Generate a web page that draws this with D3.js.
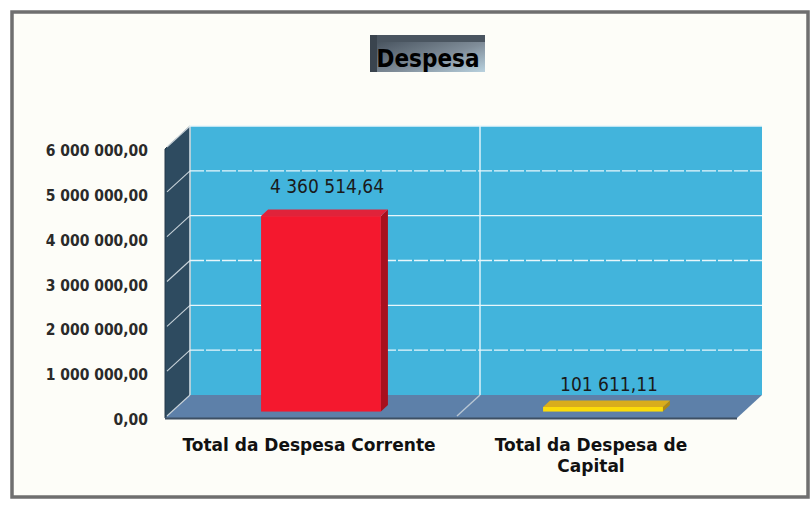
<!DOCTYPE html>
<html><head><meta charset="utf-8">
<script src="https://cdn.jsdelivr.net/npm/d3@7"></script>
<style>html,body{margin:0;padding:0;background:#ffffff;}svg{display:block;}</style>
</head><body>
<svg id="c" width="812" height="507"></svg>
<script>
const categories = [["Total da Despesa Corrente"], ["Total da Despesa de", "Capital"]];
const values = [4360514.64, 101611.11];
const valueLabels = ["4 360 514,64", "101 611,11"];
const tickValues = [0, 1000000, 2000000, 3000000, 4000000, 5000000, 6000000];
const tickLabels = ["0,00", "1 000 000,00", "2 000 000,00", "3 000 000,00", "4 000 000,00", "5 000 000,00", "6 000 000,00"];
const title = "Despesa";

const svg = d3.select("#c");
const DX = 25, DY = -23;           // depth offset front -> back
const fx0 = 165, fx1 = 737;        // front plane x extent
const y = d3.scaleLinear().domain([0, 6000000]).range([418, 149]);
const x = d3.scaleBand().domain(d3.range(categories.length)).range([173, 737]).padding(0);

// frame
svg.append("rect").attr("x", 12).attr("y", 12).attr("width", 796).attr("height", 485)
  .attr("fill", "#fdfdf8").attr("stroke", "#6f6f6f").attr("stroke-width", 3.5);

// title
const defs = svg.append("defs");
const tg = defs.append("linearGradient").attr("id", "tg").attr("x1", "0").attr("y1", "0").attr("x2", "1").attr("y2", "1");
tg.append("stop").attr("offset", "0").attr("stop-color", "#3b4651");
tg.append("stop").attr("offset", "0.6").attr("stop-color", "#7f8c98");
tg.append("stop").attr("offset", "1").attr("stop-color", "#b9d2df");
svg.append("rect").attr("x", 370).attr("y", 35).attr("width", 115).attr("height", 37).attr("fill", "url(#tg)");
svg.append("rect").attr("x", 370).attr("y", 35).attr("width", 115).attr("height", 7).attr("fill", "#4a5560");
svg.append("rect").attr("x", 370).attr("y", 35).attr("width", 7).attr("height", 37).attr("fill", "#3a444e");
svg.append("text").attr("x", 428).attr("y", 67).attr("text-anchor", "middle")
  .attr("font-family", "DejaVu Sans Condensed, DejaVu Sans").attr("font-weight", "bold")
  .attr("font-size", 24).attr("fill", "#000").text(title);

const y0 = y(0), yTop = y(6000000);
// back wall
svg.append("rect").attr("x", fx0 + DX).attr("y", yTop + DY).attr("width", fx1 - fx0)
  .attr("height", y0 - yTop).attr("fill", "#42b4dc");
// left wall
svg.append("polygon").attr("points", [[fx0, yTop], [fx0 + DX, yTop + DY], [fx0 + DX, y0 + DY], [fx0, y0]].join(" "))
  .attr("fill", "#2e4b60").attr("stroke", "#25394a").attr("stroke-width", 1);
// floor
svg.append("polygon").attr("points", [[fx0, y0], [fx0 + DX, y0 + DY], [fx1 + DX, y0 + DY], [fx1, y0]].join(" "))
  .attr("fill", "#5d80a9");
svg.append("line").attr("x1", fx0).attr("x2", fx1).attr("y1", y0 + 0.5).attr("y2", y0 + 0.5)
  .attr("stroke", "#3d4f63").attr("stroke-width", 2);

// gridlines
const grid = svg.append("g").attr("stroke", "#e8f6fb").attr("stroke-width", 1.4).attr("fill", "none");
tickValues.forEach(v => {
  if (v > 0) grid.append("line").attr("x1", fx0 + DX).attr("x2", fx1 + DX)
    .attr("y1", y(v) + DY).attr("y2", y(v) + DY).attr("stroke-dasharray", v % 2000000 ? "14,2" : null);
  grid.append("line").attr("x1", fx0 + 2).attr("y1", y(v) - 2).attr("x2", fx0 + DX).attr("y2", y(v) + DY)
    .attr("stroke", "#c9d3da").attr("stroke-width", 1.1);
});
grid.append("line").attr("x1", fx0 + DX).attr("x2", fx0 + DX).attr("y1", yTop + DY).attr("y2", y0 + DY);
// category divider
const xd = x(1);
grid.append("line").attr("x1", xd + DX).attr("x2", xd + DX).attr("y1", yTop + DY).attr("y2", y0 + DY);
grid.append("line").attr("x1", xd + DX).attr("y1", y0 + DY).attr("x2", xd + 2).attr("y2", y0 - 2)
  .attr("stroke", "#b8c6d4");

// bars
const colors = [{front: "#f4182e", top: "#e0233a", side: "#a8101e"}, {front: "#fbdc0a", top: "#d9ad1c", side: "#b08a12"}];
const fBase = 0.28, fDepth = 0.28;
const bw = x.bandwidth() * 0.425;
values.forEach((v, i) => {
  const cx = x(i) + x.bandwidth() / 2;
  const ox = DX * fBase, oy = DY * fBase;
  const px = DX * fDepth, py = DY * fDepth;
  const xl = cx - bw / 2 + ox, xr = cx + bw / 2 + ox;
  const yb = y(0) + oy, yt = y(v) + oy;
  const g = svg.append("g");
  g.append("polygon").attr("points", [[xr, yt], [xr + px, yt + py], [xr + px, yb + py], [xr, yb]].join(" ")).attr("fill", colors[i].side);
  g.append("polygon").attr("points", [[xl, yt], [xl + px, yt + py], [xr + px, yt + py], [xr, yt]].join(" ")).attr("fill", colors[i].top);
  g.append("rect").attr("x", xl).attr("y", yt).attr("width", xr - xl).attr("height", Math.max(yb - yt, 2)).attr("fill", colors[i].front);
});

// value labels
values.forEach((v, i) => {
  const cx = x(i) + x.bandwidth() / 2 + 13;
  svg.append("text").attr("x", cx).attr("y", y(v) + DY * 0.28 - (i === 0 ? 23 : 16)).attr("text-anchor", "middle")
    .attr("font-family", "DejaVu Sans Condensed, DejaVu Sans").attr("font-size", 19).attr("fill", "#1a1a1a")
    .text(valueLabels[i]);
});

// y tick labels
tickValues.forEach((v, i) => {
  svg.append("text").attr("x", 148).attr("y", y(v) + 7).attr("text-anchor", "end")
    .attr("font-family", "DejaVu Sans Condensed, DejaVu Sans").attr("font-weight", "bold").attr("font-size", 15.5)
    .attr("fill", "#2a2a2a").text(tickLabels[i]);
});

// category labels
categories.forEach((lines, i) => {
  const cx = x(i) + x.bandwidth() / 2 - 5;
  const t = svg.append("text").attr("x", cx).attr("y", 451).attr("text-anchor", "middle")
    .attr("font-family", "DejaVu Sans").attr("font-weight", "bold").attr("font-size", 17)
    .attr("fill", "#111");
  lines.forEach((ln, j) => t.append("tspan").attr("x", cx).attr("dy", j ? 21 : 0).text(ln));
});
</script>
</body></html>
